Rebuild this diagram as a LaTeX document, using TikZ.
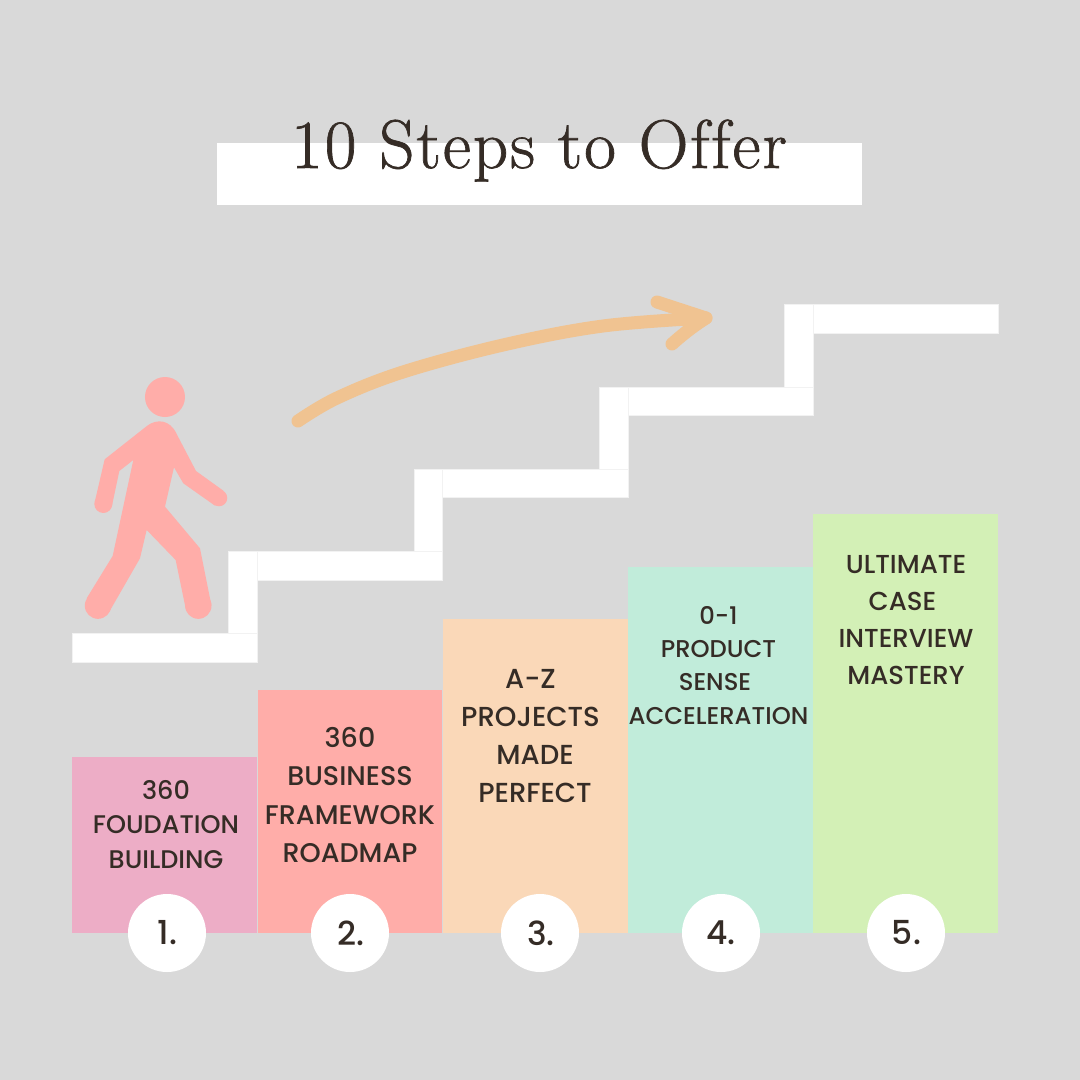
\documentclass[tikz,border=0pt]{standalone}
\usepackage{fontspec}
\setmainfont{Poppins Medium}
\newfontfamily\titlefont[LetterSpace=2.9,FakeBold=1,Ligatures=NoCommon]{Latin Modern Roman}
\definecolor{bgc}{HTML}{D9D9D9}
\definecolor{ink}{HTML}{352C26}
\definecolor{barA}{HTML}{EDADC6}
\definecolor{barB}{HTML}{FFADA9}
\definecolor{barC}{HTML}{FAD8B8}
\definecolor{barD}{HTML}{C1ECDA}
\definecolor{barE}{HTML}{D3F0B6}
\definecolor{arrowc}{HTML}{F0C391}
\definecolor{walker}{HTML}{FFADA9}
\definecolor{seam}{HTML}{F2F2F2}
\tikzset{
  lbl/.style={text=ink,align=center,font=\fontsize{#1}{#1}\selectfont,inner sep=0pt},
  num/.style={circle,fill=white,minimum size=78pt,inner sep=0pt,text=ink,font=\fontsize{33}{33}\selectfont},
  plank/.style={fill=white,draw=seam,line width=0.5pt},
  arrowstroke/.style={draw=arrowc,line width=13pt,line cap=round,line join=round},
}
\begin{document}
\begin{tikzpicture}[x=1pt,y=-1pt]
\useasboundingbox (0,0) rectangle (1080,1080);
\fill[bgc] (0,0) rectangle (1080,1080);
% title bar and title
\fill[plank,draw=none] (217,143) rectangle (862,205);
\node[anchor=base,inner sep=0pt,text=ink,font=\titlefont\fontsize{69}{69}\selectfont] (title) at (539,168) {\textcolor{ink}{10 Steps to Offer}};
% stairs
\path[plank] (228,551) rectangle (257,634);
\path[plank] (72,633) rectangle (257,662);
\path[plank] (414,469) rectangle (442,552);
\path[plank] (257,551) rectangle (442,580);
\path[plank] (599,387) rectangle (628,470);
\path[plank] (442,469) rectangle (628,497);
\path[plank] (784,304) rectangle (813,388);
\path[plank] (628,387) rectangle (813,415);
\path[plank] (813,304) rectangle (998,333);
% bars
\fill[barA] (72,757) rectangle (257,933);
\fill[barB] (257.5,690) rectangle (442,933);
\fill[barC] (443,619) rectangle (628,933);
\fill[barD] (628,567) rectangle (813,933);
\fill[barE] (813,514) rectangle (998,933);
% bar labels
\node[lbl=25.5] (t1) at (166,828) {\begin{tabular}{@{}c@{}}360\\[9pt]FOUDATION\\[9pt]BUILDING\end{tabular}};
\node[lbl=27] (t2) at (350,799) {\begin{tabular}{@{}c@{}}360\\[11pt]BUSINESS\\[11pt]FRAMEWORK\\[11pt]ROADMAP\end{tabular}};
\node[lbl=27.5] (t3) at (535,740) {\begin{tabular}{@{}c@{}}A-Z\hspace*{9pt}\\[10.5pt]PROJECTS\hspace*{9pt}\\[10.5pt]MADE\\[10.5pt]PERFECT\end{tabular}};
\node[lbl=24.3] (t4) at (718.5,669) {\begin{tabular}{@{}c@{}}0-1\\[8.7pt]PRODUCT\\[8.7pt]SENSE\hspace*{7pt}\\[8.7pt]ACCELERATION\end{tabular}};
\node[lbl=26] (t5) at (906,624) {\begin{tabular}{@{}c@{}}ULTIMATE\\[11pt]CASE\hspace*{7pt}\\[11pt]INTERVIEW\\[11pt]MASTERY\end{tabular}};
% number circles
\node[num] (n1) at (167,933) {\hspace{1pt}1.};
\node[num] (n2) at (350,933) {\hspace{1pt}2.};
\node[num] (n3) at (540,933) {\hspace{2pt}3.};
\node[num] (n4) at (721,933) {4.};
\node[num] (n5) at (906,933) {\hspace{1pt}5.};
% arrow
\draw[arrowstroke] plot[smooth,tension=0.6] coordinates {(298,421) (337,398) (403,372) (503,345) (603,326) (706,318)};
\draw[arrowstroke] (657,302) -- (706,318) .. controls (692,327) and (682,335) .. (672,344);
% walker
\begin{scope}[shift={(60,360)},x=0.3333pt,y=-0.3333pt]
\fill[walker] (315,111) circle [radius=20pt];
\fill[walker] (262,197) .. controls (290,176) and (330,178) .. (350,222) -- (408,333) -- (490,392) -- (465,437) -- (370,370)
  -- (342,322) -- (315,440) -- (420,565) -- (454,735) -- (377,745) -- (347,600) -- (260,510) -- (240,595)
  -- (148,755) -- (80,715) -- (158,588) -- (220,300) -- (178,333) -- (156,437) -- (104,427) -- (134,298) -- cycle;
\fill[walker] (114,737) circle [radius=13.2pt];
\fill[walker] (415,737) circle [radius=13.2pt];
\fill[walker] (130,432) circle [radius=9pt];
\fill[walker] (477,414) circle [radius=8.3pt];
\end{scope}
\end{tikzpicture}
\end{document}
